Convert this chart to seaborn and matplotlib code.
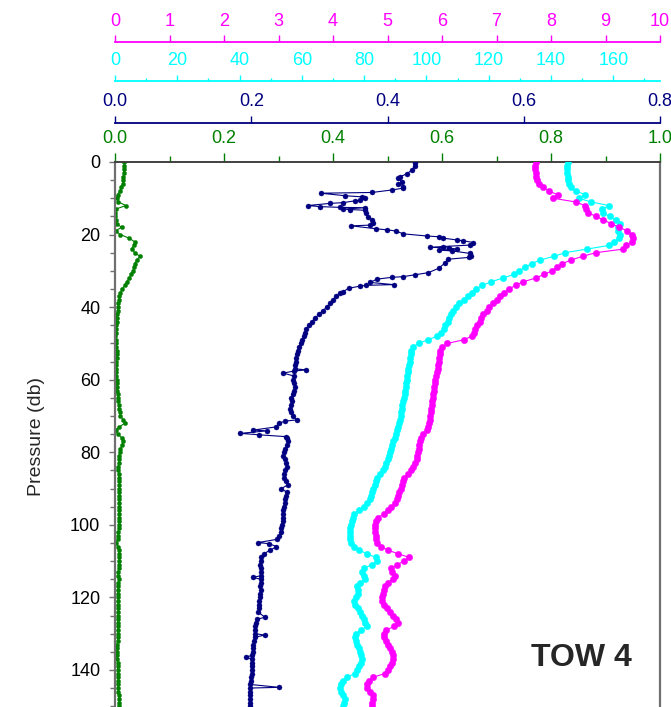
"""
TOW 4 - CTD profile against pressure
four variables on stacked top axes
"""
import numpy as np
import matplotlib
matplotlib.use("Agg")
import matplotlib.pyplot as plt
import matplotlib.ticker as mticker
import seaborn as sns

sns.set_style("ticks")
plt.rcParams["font.family"] = ["Liberation Sans", "DejaVu Sans"]

# ── data ────────────────────────────────────────────────────────────────────
# 1-db pressure bins for the green / cyan / magenta casts
depth = np.arange(0, 151)

green = [
    0.017, 0.017, 0.016, 0.016, 0.015, 0.015, 0.014, 0.011, 0.009, 0.005,   # 0-9
    0.003, 0.006, 0.020, 0.001, 0.000, 0.000, 0.002, 0.003, 0.012, 0.001,   # 10-19
    0.010, 0.026, 0.036, 0.034, 0.031, 0.036, 0.046, 0.040, 0.036, 0.035,   # 20-29
    0.033, 0.029, 0.026, 0.022, 0.018, 0.013, 0.010, 0.008, 0.007, 0.006,   # 30-39
    0.006, 0.005, 0.004, 0.003, 0.003, 0.002, 0.002, 0.001, 0.000, 0.001,   # 40-49
    0.002, 0.002, 0.003, 0.003, 0.003, 0.002, 0.002, 0.002, 0.002, 0.002,   # 50-59
    0.003, 0.003, 0.004, 0.004, 0.005, 0.005, 0.006, 0.007, 0.008, 0.009,   # 60-69
    0.010, 0.015, 0.018, 0.008, 0.001, 0.005, 0.012, 0.015, 0.013, 0.010,   # 70-79
    0.009, 0.007, 0.007, 0.007, 0.006, 0.006, 0.007, 0.007, 0.007, 0.008,   # 80-89
    0.008, 0.007, 0.008, 0.008, 0.008, 0.008, 0.007, 0.007, 0.008, 0.007,   # 90-99
    0.007, 0.007, 0.006, 0.006, 0.005, 0.002, 0.006, 0.007, 0.007, 0.007,   # 100-109
    0.007, 0.007, 0.007, 0.006, 0.006, 0.007, 0.006, 0.006, 0.006, 0.006,   # 110-119
    0.006, 0.006, 0.006, 0.006, 0.006, 0.006, 0.006, 0.005, 0.005, 0.005,   # 120-129
    0.005, 0.005, 0.005, 0.004, 0.004, 0.004, 0.003, 0.004, 0.005, 0.005,   # 130-139
    0.005, 0.005, 0.006, 0.006, 0.006, 0.006, 0.006, 0.007, 0.007, 0.007, 0.007,  # 140-150
]

cyan = [
    145.4, 145.2, 145.0, 145.2, 145.4, 145.6, 145.8, 146.4, 148.0, 151.0,   # 0-9
    149.0, 152.8, 158.6, 156.5, 156.8, 158.8, 160.8, 162.1, 161.4, 161.4,   # 10-19
    162.0, 161.8, 160.3, 158.6, 151.5, 144.5, 141.0, 136.5, 133.8, 131.6,   # 20-29
    129.8, 128.1, 124.5, 120.8, 118.0, 115.8, 114.5, 113.5, 112.1, 110.6,   # 30-39
    109.5, 108.4, 107.9, 107.3, 106.8, 106.1, 105.5, 104.6, 103.5, 100.5,   # 40-49
    97.5, 95.6, 95.2, 94.9, 94.7, 94.6, 94.4, 94.2, 94.0, 93.9,             # 50-59
    93.7, 93.5, 93.4, 93.2, 93.0, 92.8, 92.5, 92.3, 92.1, 91.9,             # 60-69
    91.7, 91.5, 91.3, 91.0, 90.7, 90.3, 89.8, 89.3, 88.9, 88.6,             # 70-79
    88.3, 88.0, 87.6, 87.1, 86.7, 86.0, 85.0, 84.2, 83.8, 83.4,             # 80-89
    83.0, 82.6, 82.2, 81.8, 81.0, 79.8, 78.2, 76.8, 76.3, 76.0,             # 90-99
    75.7, 75.5, 75.4, 75.5, 75.6, 75.9, 76.6, 78.5, 80.9, 83.8,             # 100-109
    84.2, 82.4, 80.0, 79.3, 79.8, 80.2, 78.8, 77.6, 77.9, 78.1,             # 110-119
    77.5, 76.7, 77.2, 78.0, 78.6, 79.2, 79.8, 80.4, 80.8, 79.0,             # 120-129
    77.4, 77.0, 77.3, 77.6, 78.2, 78.7, 79.0, 79.2, 78.9, 78.3,             # 130-139
    77.7, 77.0, 74.5, 73.2, 72.5, 72.2, 72.6, 73.3, 73.9, 73.6, 73.3,       # 140-150
]

magenta = [
    7.72, 7.71, 7.71, 7.72, 7.73, 7.74, 7.78, 7.85, 7.96, 8.12,   # 0-9
    8.04, 8.45, 8.62, 8.65, 8.68, 8.83, 8.96, 9.11, 9.25, 9.40,   # 10-19
    9.48, 9.51, 9.48, 9.38, 9.33, 8.82, 8.58, 8.37, 8.21, 8.11,   # 20-29
    8.02, 7.87, 7.72, 7.49, 7.35, 7.23, 7.14, 7.06, 7.00, 6.93,   # 30-39
    6.87, 6.82, 6.76, 6.72, 6.69, 6.65, 6.61, 6.58, 6.55, 6.40,   # 40-49
    6.10, 6.00, 5.97, 5.96, 5.95, 5.94, 5.93, 5.92, 5.90, 5.89,   # 50-59
    5.88, 5.87, 5.86, 5.85, 5.84, 5.83, 5.82, 5.81, 5.80, 5.79,   # 60-69
    5.78, 5.78, 5.77, 5.75, 5.72, 5.66, 5.61, 5.59, 5.58, 5.57,   # 70-79
    5.56, 5.55, 5.54, 5.51, 5.47, 5.43, 5.38, 5.31, 5.28, 5.26,   # 80-89
    5.24, 5.22, 5.19, 5.17, 5.13, 5.07, 5.01, 4.93, 4.83, 4.79,   # 90-99
    4.77, 4.77, 4.77, 4.78, 4.79, 4.80, 4.88, 5.01, 5.20, 5.40,   # 100-109
    5.30, 5.18, 5.07, 5.08, 5.13, 5.10, 5.00, 4.95, 4.93, 4.91,   # 110-119
    4.90, 4.89, 4.93, 4.99, 5.05, 5.10, 5.15, 5.20, 5.12, 4.98,   # 120-129
    4.93, 4.94, 4.98, 5.01, 5.04, 5.08, 5.10, 5.11, 5.09, 5.05,   # 130-139
    5.01, 4.95, 4.74, 4.66, 4.62, 4.63, 4.68, 4.73, 4.74, 4.72, 4.71,  # 140-150
]

# navy cast keeps its own (irregular) pressures - lots of spikes
navy_p = [
    0.2, 1.0, 2.2, 3.3, 4.0, 4.5, 5.4, 6.2, 6.8, 7.2,
    7.7, 8.4, 8.6, 9.3, 9.6, 10.0, 10.5, 10.7, 11.2, 11.4,
    12.0, 12.3, 12.5, 12.6, 13.0, 13.1, 13.3, 14.1, 15.1, 16.0,
    16.7, 17.4, 17.6, 18.4, 18.7, 19.0, 19.8, 20.4, 20.6, 21.0,
    21.5, 21.7, 22.2, 22.9, 23.3, 23.5, 23.7, 24.0, 24.3, 24.5,
    25.2, 25.8, 26.3, 26.8, 27.9, 29.3, 30.5, 31.1, 31.6, 31.8,
    32.3, 33.2, 33.8, 34.0, 34.2, 34.8, 35.7, 36, 37, 38,
    39, 40, 41, 42, 43, 44, 45, 46, 47, 48,
    49, 50, 51, 52, 53, 54, 55, 56, 57, 57.3,
    57.6, 58.2, 59, 60, 61, 62, 63, 64, 65, 66,
    67, 68, 69, 70, 71.1, 71.4, 72, 73, 73.9, 74.1,
    74.8, 75.2, 75.7, 76, 77, 78, 79, 80, 81, 82,
    83, 84, 85, 86, 87, 88, 89, 90, 91, 92,
    93, 94, 95, 96, 97, 98, 99, 100, 101, 102,
    103, 104, 104.9, 105.2, 106, 107, 108, 109, 110, 111,
    112, 113, 114, 114.5, 115, 116, 117, 118, 119, 120,
    121, 122, 123, 124, 125.5, 126, 127, 128, 129, 130,
    130.4, 131, 132, 133, 134, 135, 136, 136.5, 137, 138,
    139, 140, 141, 142, 143, 144, 144.8, 145, 146, 147,
    148, 149, 150, 151,
]
navy = [
    0.441, 0.440, 0.436, 0.428, 0.419, 0.415, 0.421, 0.416, 0.423, 0.423,
    0.407, 0.377, 0.302, 0.338, 0.362, 0.367, 0.360, 0.352, 0.335, 0.316,
    0.283, 0.301, 0.330, 0.367, 0.334, 0.345, 0.367, 0.369, 0.372, 0.377,
    0.378, 0.374, 0.347, 0.383, 0.399, 0.412, 0.423, 0.458, 0.475, 0.482,
    0.502, 0.511, 0.526, 0.521, 0.482, 0.462, 0.490, 0.502, 0.475, 0.495,
    0.521, 0.522, 0.519, 0.489, 0.484, 0.475, 0.460, 0.440, 0.423, 0.406,
    0.384, 0.375, 0.409, 0.368, 0.360, 0.343, 0.335, 0.331, 0.325, 0.320,
    0.316, 0.311, 0.305, 0.299, 0.294, 0.289, 0.285, 0.281, 0.279, 0.277,
    0.275, 0.273, 0.270, 0.268, 0.267, 0.266, 0.265, 0.264, 0.264, 0.281,
    0.263, 0.247, 0.263, 0.262, 0.263, 0.264, 0.263, 0.261, 0.259, 0.260,
    0.258, 0.257, 0.258, 0.261, 0.267, 0.250, 0.241, 0.237, 0.203, 0.223,
    0.184, 0.212, 0.251, 0.252, 0.254, 0.253, 0.250, 0.248, 0.247, 0.249,
    0.251, 0.252, 0.250, 0.248, 0.248, 0.251, 0.254, 0.244, 0.252, 0.251,
    0.250, 0.249, 0.248, 0.247, 0.247, 0.246, 0.246, 0.245, 0.244, 0.243,
    0.241, 0.238, 0.210, 0.226, 0.237, 0.228, 0.218, 0.215, 0.214, 0.213,
    0.214, 0.214, 0.215, 0.202, 0.214, 0.214, 0.213, 0.214, 0.213, 0.213,
    0.212, 0.212, 0.211, 0.210, 0.220, 0.209, 0.207, 0.206, 0.206, 0.205,
    0.220, 0.205, 0.204, 0.203, 0.203, 0.202, 0.201, 0.192, 0.201, 0.201,
    0.201, 0.201, 0.201, 0.200, 0.199, 0.198, 0.241, 0.198, 0.198, 0.198,
    0.198, 0.198, 0.198, 0.198,
]

GREEN, NAVY, CYAN, MAGENTA = "#008000", "#000080", "#00FFFF", "#FF00FF"
TICK_FS = 13


def profile(axis, x, y, color, ms, lw):
    sns.lineplot(x=x, y=y, ax=axis, sort=False, estimator=None, orient="y",
                 color=color, linewidth=lw, marker="o", markersize=ms,
                 markeredgecolor=color, markeredgewidth=0.3)


def top_axis(axis, color, offset, lim, major, minor=None, fmt=None,
             major_len=4.5, minor_len=2.0):
    axis.set_xlim(*lim)
    for s in ("bottom", "left", "right"):
        axis.spines[s].set_visible(False)
    axis.spines["top"].set_position(("outward", offset))
    axis.spines["top"].set_color(color)
    axis.spines["top"].set_linewidth(1.3)
    axis.xaxis.set_major_locator(mticker.MultipleLocator(major))
    if minor:
        axis.xaxis.set_minor_locator(mticker.MultipleLocator(minor))
    else:
        axis.xaxis.set_minor_locator(mticker.NullLocator())
    if fmt:
        axis.xaxis.set_major_formatter(mticker.FormatStrFormatter(fmt))
    axis.tick_params(axis="x", which="both", colors=color, labelsize=TICK_FS, pad=4.2,
                     top=True, bottom=False, labeltop=True, labelbottom=False,
                     direction="out", width=1)
    axis.tick_params(axis="x", which="major", length=major_len)
    axis.tick_params(axis="x", which="minor", length=minor_len)
    axis.set_xlabel("")


# ── figure ──────────────────────────────────────────────────────────────────
fig = plt.figure(figsize=(6.71, 7.07), dpi=100)
ax = fig.add_axes([115 / 671, -5 / 707, 545 / 671, 550 / 707])
ax_navy = ax.twiny()
ax_cyan = ax.twiny()
ax_mag = ax.twiny()

profile(ax, green, depth, GREEN, 3.0, 0.8)
profile(ax_navy, navy, navy_p, NAVY, 3.6, 0.8)
profile(ax_cyan, cyan, depth, CYAN, 4.6, 0.8)
profile(ax_mag, magenta, depth, MAGENTA, 4.6, 0.8)

# main axes: green scale on the top spine, pressure on the left
ax.set_xlim(0, 1.0)
ax.set_ylim(550 / 3.628, 0)
ax.xaxis.set_major_locator(mticker.MultipleLocator(0.2))
ax.xaxis.set_minor_locator(mticker.MultipleLocator(0.1))
ax.xaxis.set_major_formatter(mticker.FormatStrFormatter("%.1f"))
ax.tick_params(axis="x", which="both", colors=GREEN, labelsize=TICK_FS, pad=4.2,
               top=True, bottom=False, labeltop=True, labelbottom=False,
               direction="out", width=1)
ax.tick_params(axis="x", which="major", length=6.5)
ax.tick_params(axis="x", which="minor", length=4.0)
ax.set_xlabel("")

ax.yaxis.set_major_locator(mticker.MultipleLocator(20))
ax.yaxis.set_minor_locator(mticker.MultipleLocator(5))
ax.tick_params(axis="y", which="both", left=True, right=False, direction="out",
               color="#707070", labelcolor="black", labelsize=TICK_FS, width=1,
               pad=6.5)
ax.tick_params(axis="y", which="major", length=4.1)
ax.tick_params(axis="y", which="minor", length=3.6)
ax.set_ylabel("Pressure (db)", fontsize=14, labelpad=18)

for s in ("left", "right"):
    ax.spines[s].set_color("#707070")
    ax.spines[s].set_linewidth(1.6)
ax.spines["top"].set_color("#404040")
ax.spines["top"].set_linewidth(1.4)
ax.spines["bottom"].set_visible(False)

top_axis(ax_navy, NAVY, 27.9, (0, 0.8), 0.2, fmt="%.1f", major_len=5.2)
top_axis(ax_cyan, CYAN, 58.3, (0, 175), 20, minor=10, major_len=4.3, minor_len=2.0)
top_axis(ax_mag, MAGENTA, 86.4, (0, 10), 1, major_len=4.8)

ax.text(0.856, 136.8, "TOW 4", fontsize=23, fontweight="bold",
        ha="center", va="center")

fig.savefig("out.png", dpi=100)
plt.close()
